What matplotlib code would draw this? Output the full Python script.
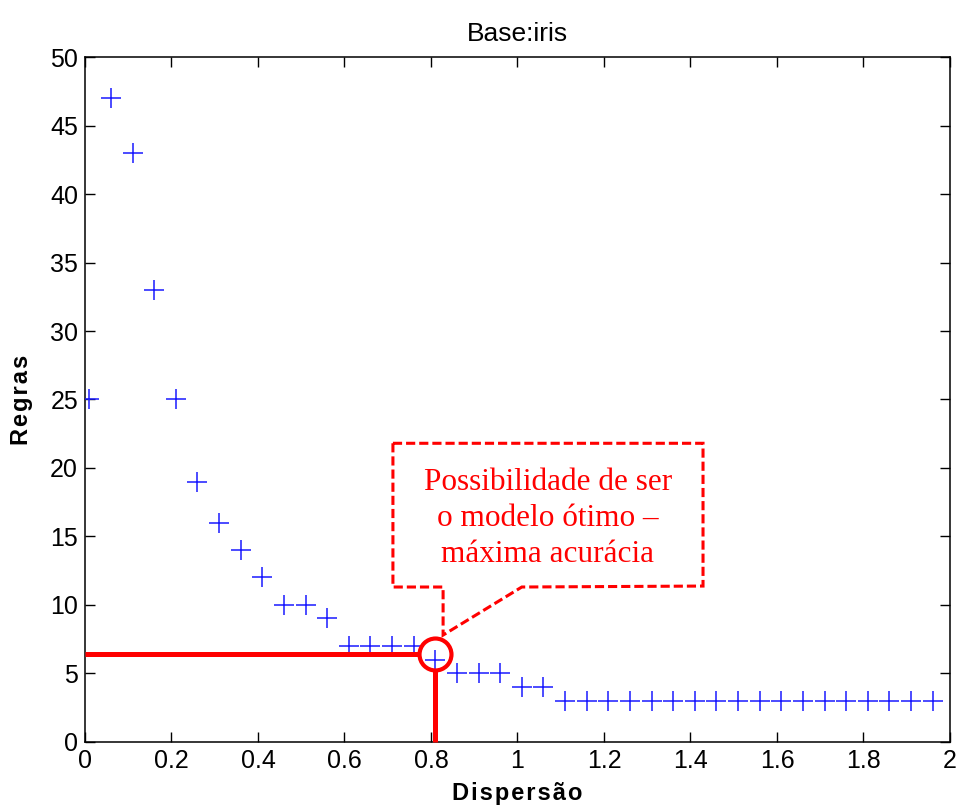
import numpy as np
import matplotlib
matplotlib.use("Agg")
import matplotlib.pyplot as plt
from matplotlib.patches import Polygon

# dispersion values and number of rules (Base: iris)
dispersao = [0.01, 0.06, 0.11, 0.16, 0.21, 0.26, 0.31, 0.36, 0.41, 0.46,
             0.51, 0.56, 0.61, 0.66, 0.71, 0.76, 0.81, 0.86, 0.91, 0.96,
             1.01, 1.06, 1.11, 1.16, 1.21, 1.26, 1.31, 1.36, 1.41, 1.46,
             1.51, 1.56, 1.61, 1.66, 1.71, 1.76, 1.81, 1.86, 1.91, 1.96]
regras = [25, 47, 43, 33, 25, 19, 16, 14, 12, 10,
          10, 9, 7, 7, 7, 7, 6, 5, 5, 5,
          4, 4, 3, 3, 3, 3, 3, 3, 3, 3,
          3, 3, 3, 3, 3, 3, 3, 3, 3, 3]

# highlighted point (optimal model)
otimo_x = 0.81
otimo_y = 6.4

# callout box outline, in data units
callout_x = [0.712, 1.429, 1.429, 1.010, 0.828, 0.828, 0.712]
callout_y = [21.8, 21.8, 11.37, 11.3, 7.79, 11.3, 11.3]
callout_text = "Possibilidade de ser\no modelo ótimo –\nmáxima acurácia"

plt.rcParams['font.family'] = ['Liberation Sans', 'DejaVu Sans']

fig = plt.figure(figsize=(9.56, 8.09), dpi=100)
ax = fig.add_axes([0.0889, 0.0832, 0.9048, 0.846])

ax.plot(dispersao, regras, linestyle='none', marker='+', markersize=14,
        markeredgewidth=1.1, color='#1a1aff', zorder=3)

# red guide lines and circle
ax.plot([0, otimo_x - 0.04], [otimo_y, otimo_y], color='red', lw=3.6,
        solid_capstyle='butt', zorder=4)
ax.plot([otimo_x, otimo_x], [0, otimo_y - 1.25], color='red', lw=3.6,
        solid_capstyle='butt', zorder=4, clip_on=False)
ax.plot([otimo_x], [otimo_y], marker='o', markersize=23, mfc='none',
        mec='red', mew=3, zorder=5)

poly = Polygon(list(zip(callout_x, callout_y)), closed=True, fill=False,
               edgecolor='red', lw=2.2, linestyle=(0, (3, 1.3)), zorder=5)
ax.add_patch(poly)
ax.text(1.07, 16.3, callout_text, ha='center', va='center', color='red',
        fontsize=22.5, family=['Liberation Serif', 'DejaVu Serif'],
        linespacing=1.3, zorder=6)

ax.set_xlim(0, 2)
ax.set_ylim(0, 50)
ax.set_xticks(np.arange(0, 2.01, 0.2))
ax.set_xticklabels(['0', '0.2', '0.4', '0.6', '0.8', '1', '1.2', '1.4',
                    '1.6', '1.8', '2'])
ax.set_yticks(np.arange(0, 51, 5))
ax.tick_params(direction='in', length=7, width=1, top=True, right=True,
               labelsize=18, pad=5, color='black')
for s in ax.spines.values():
    s.set_linewidth(1.1)

ax.set_title('Base:iris', fontsize=19, pad=12)
ax.set_xlabel('\u200a'.join('Dispersão'), fontsize=17, fontweight='bold',
              labelpad=7)
ax.set_ylabel('\u200a'.join('Regras'), fontsize=17, fontweight='bold',
              labelpad=12)

fig.savefig('out.png', dpi=100)
